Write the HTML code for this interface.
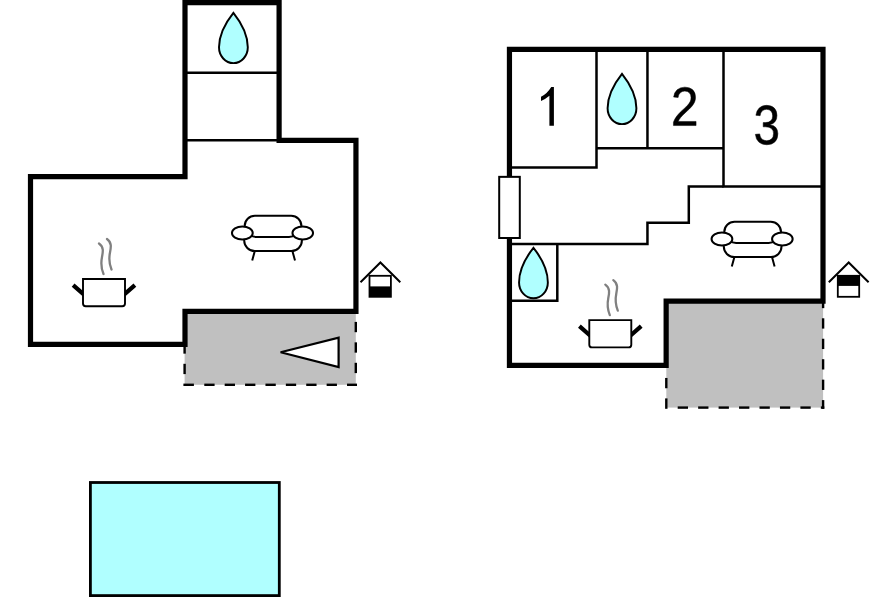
<!DOCTYPE html>
<html><head><meta charset="utf-8"><style>
html,body{margin:0;padding:0;background:#fff;}
svg{display:block;}
text{font-family:"Liberation Sans", sans-serif;}
</style></head><body>
<svg width="896" height="597" viewBox="0 0 896 597">
<rect width="896" height="597" fill="#fff"/>
<!-- patios -->
<rect x="184.6" y="311.5" width="171.2" height="73.3" fill="#c0c0c0"/>
<rect x="666.3" y="301.2" width="156.8" height="106.4" fill="#c0c0c0"/>
<g fill="#000">
<rect x="183.40" y="343.35" width="2.4" height="10.30"/>
<rect x="183.40" y="363.80" width="2.4" height="10.30"/>
<rect x="183.40" y="383.60" width="10.50" height="2.4"/>
<rect x="204.29" y="383.60" width="10.30" height="2.4"/>
<rect x="224.68" y="383.60" width="10.30" height="2.4"/>
<rect x="245.07" y="383.60" width="10.30" height="2.4"/>
<rect x="265.46" y="383.60" width="10.30" height="2.4"/>
<rect x="285.85" y="383.60" width="10.30" height="2.4"/>
<rect x="306.24" y="383.60" width="10.30" height="2.4"/>
<rect x="326.63" y="383.60" width="10.30" height="2.4"/>
<rect x="347.02" y="383.60" width="9.98" height="2.4"/>
<rect x="354.60" y="321.90" width="2.4" height="10.30"/>
<rect x="354.60" y="342.35" width="2.4" height="10.30"/>
<rect x="354.60" y="362.80" width="2.4" height="10.30"/>
<rect x="665.10" y="377.95" width="2.4" height="10.30"/>
<rect x="665.10" y="398.40" width="2.4" height="10.40"/>
<rect x="677.70" y="406.40" width="10.30" height="2.4"/>
<rect x="698.15" y="406.40" width="10.30" height="2.4"/>
<rect x="718.60" y="406.40" width="10.30" height="2.4"/>
<rect x="739.05" y="406.40" width="10.30" height="2.4"/>
<rect x="759.50" y="406.40" width="10.30" height="2.4"/>
<rect x="779.95" y="406.40" width="10.30" height="2.4"/>
<rect x="800.40" y="406.40" width="10.30" height="2.4"/>
<rect x="820.85" y="406.40" width="3.45" height="2.4"/>
<rect x="821.90" y="297.85" width="2.4" height="10.30"/>
<rect x="821.90" y="318.30" width="2.4" height="10.30"/>
<rect x="821.90" y="338.75" width="2.4" height="10.30"/>
<rect x="821.90" y="359.20" width="2.4" height="10.30"/>
<rect x="821.90" y="379.65" width="2.4" height="10.30"/>
<rect x="821.90" y="400.10" width="2.4" height="8.70"/>
</g>
<!-- triangle -->
<path d="M 280.6 352.3 L 338.6 337.6 L 338.6 367.0 Z" fill="#fff" stroke="#000" stroke-width="2.2" stroke-miterlimit="2"/>
<!-- left building thin lines -->
<g stroke="#000" stroke-width="2.5" fill="none">
<path d="M 184.7 72.7 H 279.1 M 184.7 140.3 H 279.1"/>
</g>
<!-- left building walls -->
<path d="M 185.0 2.6 H 279.1 V 140.35 H 355.95 V 311.4 H 185.0 V 344.45 H 30.5 V 176.7 H 185.0 Z" fill="none" stroke="#000" stroke-width="5.2" stroke-linejoin="miter"/>
<!-- right building thin lines -->
<g stroke="#000" stroke-width="2.5" fill="none" stroke-linejoin="miter">
<path d="M 596.5 49.4 V 167.4 H 509.45"/>
<path d="M 647.45 49.4 V 148.2"/>
<path d="M 596.5 148.2 H 723.5"/>
<path d="M 723.5 49.4 V 186.4 H 823.0"/>
<path d="M 723.5 186.4 H 688.8 V 222.7 H 647.45 V 244.05 H 509.45"/>
<path d="M 557.3 244.05 V 300.85 H 509.45"/>
</g>
<!-- right building walls -->
<path d="M 509.45 49.4 H 823.0 V 301.05 H 666.15 V 365.3 H 509.45 Z" fill="none" stroke="#000" stroke-width="5.2" stroke-linejoin="miter"/>
<rect x="499.2" y="176.85" width="20.6" height="61.15" fill="#fff" stroke="#000" stroke-width="2"/>
<!-- drops -->
<path transform="translate(233.4 12.8)" d="M 0 0 C -6 7.5, -14.4 19, -14.4 34.5 A 14.4 15.8 0 0 0 14.4 34.5 C 14.4 19, 6 7.5, 0 0 Z" fill="#b0ffff" stroke="#000" stroke-width="1.95" stroke-linejoin="miter"/>
<path transform="translate(622.0 73.8)" d="M 0 0 C -6 7.5, -14.4 19, -14.4 34.5 A 14.4 15.8 0 0 0 14.4 34.5 C 14.4 19, 6 7.5, 0 0 Z" fill="#b0ffff" stroke="#000" stroke-width="1.95" stroke-linejoin="miter"/>
<path transform="translate(533.45 247.9)" d="M 0 0 C -6 7.5, -14.4 19, -14.4 34.5 A 14.4 15.8 0 0 0 14.4 34.5 C 14.4 19, 6 7.5, 0 0 Z" fill="#b0ffff" stroke="#000" stroke-width="1.95" stroke-linejoin="miter"/>
<!-- sofas -->
<g fill="none" stroke="#000" stroke-width="2">
<path d="M 244.7 232 V 226 A 10.2 10.2 0 0 1 254.9 215.8 H 291.2 A 10.2 10.2 0 0 1 301.4 226 V 232"/>
<path d="M 250.5 235.3 Q 252.5 236.9 256.5 236.9 H 289 Q 293 236.9 295 235.3"/>
<path d="M 244.2 236 V 240.5 A 10.5 10.5 0 0 0 254.7 251 H 291.4 A 10.5 10.5 0 0 0 301.9 240.5 V 236"/>
<path d="M 254.8 251 L 252.2 260.5 M 292.4 251 L 295 260.5"/>
<ellipse cx="242.35" cy="232.95" rx="10.4" ry="6.5" fill="#fff"/>
<ellipse cx="302.75" cy="232.95" rx="10.3" ry="6.5" fill="#fff"/>
</g>
<g transform="translate(479.6 6)"><g fill="none" stroke="#000" stroke-width="2">
<path d="M 244.7 232 V 226 A 10.2 10.2 0 0 1 254.9 215.8 H 291.2 A 10.2 10.2 0 0 1 301.4 226 V 232"/>
<path d="M 250.5 235.3 Q 252.5 236.9 256.5 236.9 H 289 Q 293 236.9 295 235.3"/>
<path d="M 244.2 236 V 240.5 A 10.5 10.5 0 0 0 254.7 251 H 291.4 A 10.5 10.5 0 0 0 301.9 240.5 V 236"/>
<path d="M 254.8 251 L 252.2 260.5 M 292.4 251 L 295 260.5"/>
<ellipse cx="242.35" cy="232.95" rx="10.4" ry="6.5" fill="#fff"/>
<ellipse cx="302.75" cy="232.95" rx="10.3" ry="6.5" fill="#fff"/>
</g></g>
<!-- pots -->
<g>
<path d="M 73.1 285.1 L 86 296.4 M 134.9 285.1 L 122 296.4" stroke="#000" stroke-width="4.2" fill="none"/>
<path d="M 83 279 H 125 V 303.6 Q 125 306.3 122.3 306.3 H 85.7 Q 83 306.3 83 303.6 Z" fill="#fff" stroke="#000" stroke-width="1.9"/>
<path d="M 99 243.5 C 104 247, 103 252, 102 257 S 101 268, 103.5 274" stroke="#808080" stroke-width="2.3" fill="none" stroke-linecap="round"/>
<path d="M 107 239 C 112 242.5, 111 247.5, 110 252.5 S 109 263.5, 111.5 269.5" stroke="#808080" stroke-width="2.3" fill="none" stroke-linecap="round"/>
</g>
<g transform="translate(506.3 41.1)"><g>
<path d="M 73.1 285.1 L 86 296.4 M 134.9 285.1 L 122 296.4" stroke="#000" stroke-width="4.2" fill="none"/>
<path d="M 83 279 H 125 V 303.6 Q 125 306.3 122.3 306.3 H 85.7 Q 83 306.3 83 303.6 Z" fill="#fff" stroke="#000" stroke-width="1.9"/>
<path d="M 99 243.5 C 104 247, 103 252, 102 257 S 101 268, 103.5 274" stroke="#808080" stroke-width="2.3" fill="none" stroke-linecap="round"/>
<path d="M 107 239 C 112 242.5, 111 247.5, 110 252.5 S 109 263.5, 111.5 269.5" stroke="#808080" stroke-width="2.3" fill="none" stroke-linecap="round"/>
</g></g>
<!-- house icons -->
<path d="M 360.5 282.2 L 380.4 262.5 L 400.3 282.2" fill="none" stroke="#000" stroke-width="2"/>
<rect x="369.5" y="275.8" width="21.4" height="21.0" fill="#fff" stroke="#000" stroke-width="1.8"/>
<rect x="369.5" y="286.4" width="21.4" height="10.4" fill="#000"/>
<g transform="translate(468.3 0)"><path d="M 360.5 282.2 L 380.4 262.5 L 400.3 282.2" fill="none" stroke="#000" stroke-width="2"/>
<rect x="369.5" y="275.8" width="21.4" height="21.0" fill="#fff" stroke="#000" stroke-width="1.8"/>
<rect x="369.5" y="275.8" width="21.4" height="10.1" fill="#000"/>
</g>
<!-- labels -->
<path d="M 553.9 87 V 125.8 H 549.4 V 95.7 Q 545.2 99.2 541 101.1 V 96.7 Q 546.9 94.1 551.25 87 Z" fill="#000"/>
<path transform="translate(670.95 125.55) scale(0.02423 -0.02686)" d="M103 0V127Q154 244 227.5 333.5Q301 423 382.0 495.5Q463 568 542.5 630.0Q622 692 686.0 754.0Q750 816 789.5 884.0Q829 952 829 1038Q829 1154 761.0 1218.0Q693 1282 572 1282Q457 1282 382.5 1219.5Q308 1157 295 1044L111 1061Q131 1230 254.5 1330.0Q378 1430 572 1430Q785 1430 899.5 1329.5Q1014 1229 1014 1044Q1014 962 976.5 881.0Q939 800 865.0 719.0Q791 638 582 468Q467 374 399.0 298.5Q331 223 301 153H1036V0Z" fill="#000" stroke="#000" stroke-width="0.5" vector-effect="non-scaling-stroke"/>
<path transform="translate(753.55 144.2) scale(0.02318 -0.02718)" d="M1049 389Q1049 194 925.0 87.0Q801 -20 571 -20Q357 -20 229.5 76.5Q102 173 78 362L264 379Q300 129 571 129Q707 129 784.5 196.0Q862 263 862 395Q862 510 773.5 574.5Q685 639 518 639H416V795H514Q662 795 743.5 859.5Q825 924 825 1038Q825 1151 758.5 1216.5Q692 1282 561 1282Q442 1282 368.5 1221.0Q295 1160 283 1049L102 1063Q122 1236 245.5 1333.0Q369 1430 563 1430Q775 1430 892.5 1331.5Q1010 1233 1010 1057Q1010 922 934.5 837.5Q859 753 715 723V719Q873 702 961.0 613.0Q1049 524 1049 389Z" fill="#000" stroke="#000" stroke-width="0.5" vector-effect="non-scaling-stroke"/>
<!-- pool -->
<rect x="90.4" y="482.5" width="188.9" height="113.1" fill="#b0ffff" stroke="#000" stroke-width="2.8"/>
</svg>
</body></html>
